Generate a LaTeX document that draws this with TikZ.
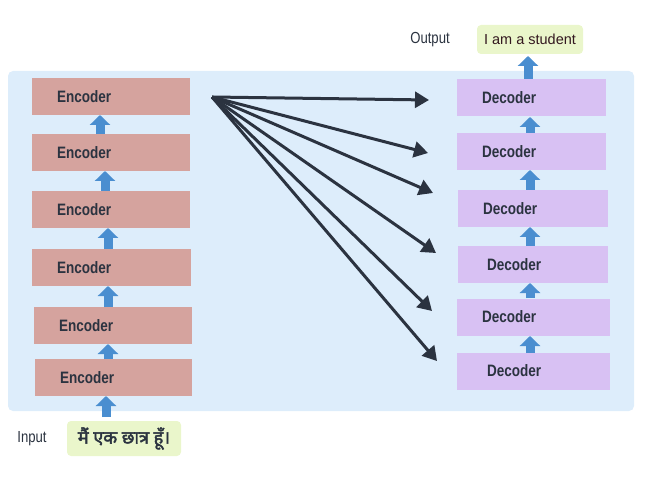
\documentclass[tikz,border=0pt]{standalone}
\usepackage{fontspec}
\setmainfont{Liberation Sans}
\newfontfamily\boxfont[FakeStretch=0.82]{Liberation Sans}
\newfontfamily\hindi[Script=Devanagari,FakeBold=2.5]{Noto Sans}
\usetikzlibrary{arrows.meta}
\definecolor{panel}{HTML}{DDEDFB}
\definecolor{encfill}{HTML}{D5A39E}
\definecolor{decfill}{HTML}{D8C1F3}
\definecolor{tagfill}{HTML}{EAF6CB}
\definecolor{ink}{HTML}{2B3340}
\definecolor{blockblue}{HTML}{4A8ED0}

\begin{document}
\begin{tikzpicture}[x=1pt,y=-1pt,>=Stealth,
  enc/.style={fill=encfill,minimum height=37pt,text width=108pt,inner xsep=25pt,
    align=left,font=\boxfont\bfseries\fontsize{16.5}{17}\selectfont,text=ink},
  dec/.style={enc,fill=decfill},
  tag/.style={fill=tagfill,rounded corners=4pt,text=ink},
  blk/.style={blockblue,line width=9pt,-{Triangle[width=20pt,length=10pt]}},
  link/.style={ink,line width=3pt,-{Triangle[width=16pt,length=14pt]}}]
  \useasboundingbox (0,0) rectangle (650,478);
  \fill[panel,rounded corners=5pt] (8,71) rectangle (634,411);

  \node[enc] (e1) at (111,96.5) {Encoder};
  \node[enc] (e2) at (111,152.5) {Encoder};
  \node[enc] (e3) at (111,209.5) {Encoder};
  \node[enc,text width=109pt] (e4) at (111.5,267.5) {Encoder};
  \node[enc] (e5) at (113,325.5) {Encoder};
  \node[enc,text width=107pt] (e6) at (113.5,377.5) {Encoder};

  \node[dec,text width=99pt] (d1) at (531.5,98) {Decoder};
  \node[dec,text width=99pt] (d2) at (531.5,151.5) {Decoder};
  \node[dec,text width=100pt] (d3) at (533,208.5) {Decoder};
  \node[dec,text width=92pt,inner xsep=29pt] (d4) at (533,264.5) {Decoder};
  \node[dec,text width=103pt] (d5) at (533.5,317) {Decoder};
  \node[dec,text width=93pt,inner xsep=30pt] (d6) at (533.5,371) {Decoder};

  \node[tag,minimum width=114pt,minimum height=35pt,
    font=\hindi\fontsize{18}{19}\selectfont] (src) at (124,438.5) {मैं एक छात्र हूँ।};
  \node[tag,minimum width=106pt,minimum height=29pt,
    font=\fontsize{14.5}{15}\selectfont,text=ink!80!red!60!black] (tgt) at (530,39.5) {I am a student};
  \node[text=ink,font=\boxfont\fontsize{16}{17}\selectfont] (inlbl) at (32,439) {Input};
  \node[text=ink,font=\boxfont\fontsize{16}{17}\selectfont] (outlbl) at (430,40) {Output};

  \draw[blk] (100,134) -- (100,115);
  \draw[blk] (105,191) -- (105,171);
  \draw[blk] (108,249) -- (108,228);
  \draw[blk] (108,307) -- (108,286);
  \draw[blk] (108,359) -- (108,344);
  \draw[blk] (106,417) -- (106,396);

  \draw[blk] (530,133) -- (530,117);
  \draw[blk] (530,190) -- (530,170);
  \draw[blk] (530,246) -- (530,227);
  \draw[blk] (530,298) -- (530,283);
  \draw[blk] (530,353) -- (530,336);
  \draw[blk] (528,79) -- (528,56);

  \coordinate (hub) at (212,97);
  \coordinate (t1) at (429,100);
  \coordinate (t2) at (428,153);
  \coordinate (t3) at (433,193);
  \coordinate (t4) at (436,253);
  \coordinate (t5) at (432,311);
  \coordinate (t6) at (437,361);
  \draw[link] (hub) -- (t1);
  \draw[link] (hub) -- (t2);
  \draw[link] (hub) -- (t3);
  \draw[link] (hub) -- (t4);
  \draw[link] (hub) -- (t5);
  \draw[link] (hub) -- (t6);
\end{tikzpicture}
\end{document}
